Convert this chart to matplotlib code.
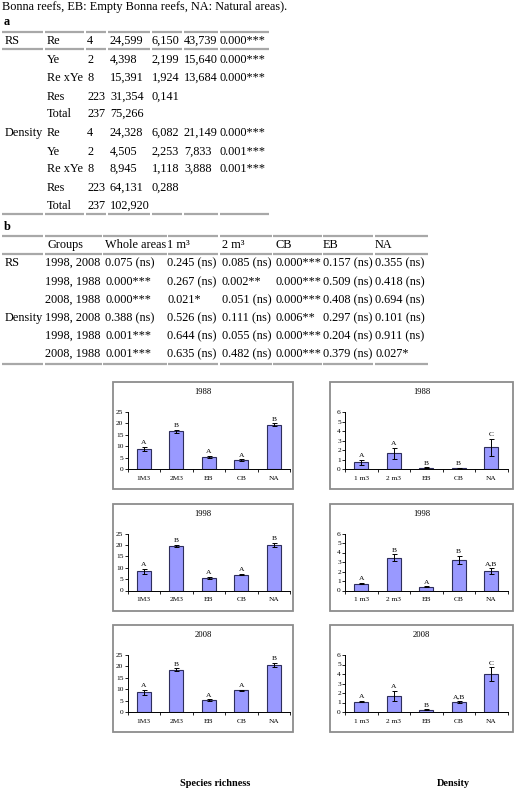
import matplotlib
matplotlib.use("Agg")
import matplotlib.pyplot as plt
from matplotlib.patches import Rectangle
import numpy as np

plt.rcParams['font.family'] = ['Liberation Serif', 'DejaVu Serif']

# ---------------- table a data ----------------
a_effect = ['RS', '', '', '', '', 'Density', '', '', '', '']
a_source = ['Re', 'Ye', 'Re xYe', 'Res', 'Total'] * 2
a_df = ['4', '2', '8', '223', '237'] * 2
a_ss = ['24,599', '4,398', '15,391', '31,354', '75,266',
        '24,328', '4,505', '8,945', '64,131', '102,920']
a_ms = ['6,150', '2,199', '1,924', '0,141', '',
        '6,082', '2,253', '1,118', '0,288', '']
a_f = ['43,739', '15,640', '13,684', '', '',
       '21,149', '7,833', '3,888', '', '']
a_p = ['0.000***', '0.000***', '0.000***', '', '',
       '0.000***', '0.001***', '0.001***', '', '']

# ---------------- table b data ----------------
b_header = ['', 'Groups', 'Whole areas', '1 m³', '2 m³', 'CB', 'EB', 'NA']
b_var = ['RS', '', '', 'Density', '', '']
b_groups = ['1998, 2008', '1998, 1988', '2008, 1988'] * 2
b_whole = ['0.075 (ns)', '0.000***', '0.000***', '0.388 (ns)', '0.001***', '0.001***']
b_1m = ['0.245 (ns)', '0.267 (ns)', '0.021*', '0.526 (ns)', '0.644 (ns)', '0.635 (ns)']
b_2m = ['0.085 (ns)', '0.002**', '0.051 (ns)', '0.111 (ns)', '0.055 (ns)', '0.482 (ns)']
b_cb = ['0.000***', '0.000***', '0.000***', '0.006**', '0.000***', '0.000***']
b_eb = ['0.157 (ns)', '0.509 (ns)', '0.408 (ns)', '0.297 (ns)', '0.204 (ns)', '0.379 (ns)']
b_na = ['0.355 (ns)', '0.418 (ns)', '0.694 (ns)', '0.101 (ns)', '0.911 (ns)', '0.027*']

# ---------------- chart data ----------------
years = ['1988', '1998', '2008']
sr_cats = ['1M3', '2M3', 'EB', 'CB', 'NA']
den_cats = ['1 m3', '2 m3', 'EB', 'CB', 'NA']

sr_1988 = [8.8, 16.6, 5.3, 3.9, 19.4]
sr_1988_err = [1.0, 0.6, 0.4, 0.3, 0.6]
sr_1998 = [8.4, 19.5, 5.5, 7.0, 20.0]
sr_1998_err = [1.2, 0.5, 0.5, 0.3, 1.0]
sr_2008 = [8.6, 18.5, 5.3, 9.5, 20.8]
sr_2008_err = [1.0, 0.6, 0.3, 0.3, 0.9]
sr_letters_1988 = ['A', 'B', 'A', 'A', 'B']
sr_letters_1998 = ['A', 'B', 'A', 'A', 'B']
sr_letters_2008 = ['A', 'B', 'A', 'A', 'B']

den_1988 = [0.7, 1.65, 0.12, 0.1, 2.3]
den_1988_err = [0.25, 0.6, 0.05, 0.05, 0.9]
den_1998 = [0.72, 3.45, 0.38, 3.2, 2.05]
den_1998_err = [0.06, 0.35, 0.05, 0.45, 0.3]
den_2008 = [1.1, 1.7, 0.22, 1.08, 4.0]
den_2008_err = [0.06, 0.5, 0.05, 0.08, 0.7]
den_letters_1988 = ['A', 'A', 'B', 'B', 'C']
den_letters_1998 = ['A', 'B', 'A', 'B', 'A,B']
den_letters_2008 = ['A', 'A', 'B', 'A,B', 'C']

W, H = 517, 790
fig = plt.figure(figsize=(W / 100, H / 100), dpi=100)

ov = fig.add_axes([0, 0, 1, 1])
ov.set_xlim(0, W)
ov.set_ylim(H, 0)
ov.axis('off')

FS = 8.8
rule_c = '#a8a8a8'

def rules(y, segs):
    for x0, x1 in segs:
        ov.plot([x0, x1], [y, y], color=rule_c, lw=1.6, solid_capstyle='butt')

ov.text(2, 7, 'Bonna reefs, EB: Empty Bonna reefs, NA: Natural areas).',
        fontsize=FS, va='center', ha='left')
ov.text(4, 22, 'a', fontsize=FS, fontweight='bold', va='center')

segA = [(2, 43), (45, 84), (86, 106), (108, 150), (152, 182), (184, 218), (220, 269)]
rules(32, segA)
rules(48.5, segA)
rules(214, segA)
colsA = [5, 47, 87, 110, 152, 184, 220]
rowsA = [41, 60, 78, 97, 114, 133, 152, 169, 188, 206]
for i, y in enumerate(rowsA):
    vals = [a_effect[i], a_source[i], a_df[i], a_ss[i], a_ms[i], a_f[i], a_p[i]]
    for x, v in zip(colsA, vals):
        if v:
            ov.text(x, y, v, fontsize=FS, va='center', ha='left')

ov.text(4, 227, 'b', fontsize=FS, fontweight='bold', va='center')
segB = [(2, 43), (45, 102), (103, 167), (168, 218), (220, 272), (273, 322),
        (323, 373), (375, 428)]
rules(236, segB)
rules(253.5, segB)
rules(363.5, segB)
colsB = [5, 45, 105, 167, 222, 275, 323, 375]
for x, v in zip(colsB, b_header):
    if v:
        ov.text(x if v != 'Groups' else 47, 245, v, fontsize=FS, va='center', ha='left')
rowsB = [263, 282, 300, 318, 336, 354]
for i, y in enumerate(rowsB):
    vals = [b_var[i], b_groups[i], b_whole[i], b_1m[i], b_2m[i], b_cb[i], b_eb[i], b_na[i]]
    for x, v in zip(colsB, vals):
        if v:
            ov.text(x, y, v, fontsize=FS, va='center', ha='left')

# ---------------- charts ----------------
frame_tops = [382, 503.5, 625]
left_frame = (113, 293)
right_frame = (330, 513)
left_axis = (127.5, 290)
right_axis = (345, 507.5)
bar_color = '#9999ff'
edge_color = '#2e2e5c'

sr_vals = [sr_1988, sr_1998, sr_2008]
sr_errs = [sr_1988_err, sr_1998_err, sr_2008_err]
sr_lets = [sr_letters_1988, sr_letters_1998, sr_letters_2008]
den_vals = [den_1988, den_1998, den_2008]
den_errs = [den_1988_err, den_1998_err, den_2008_err]
den_lets = [den_letters_1988, den_letters_1998, den_letters_2008]


def draw_chart(T, frame, axx, cats, vals, errs, lets, ymax, ystep, title):
    ov.add_patch(Rectangle((frame[0], T), frame[1] - frame[0], 107,
                           fill=False, ec='#8c8c8c', lw=1.3))
    ov.text((frame[0] + frame[1]) / 2, T + 10, title, fontsize=6.2,
            ha='center', va='center')
    ax = fig.add_axes([axx[0] / W, 1 - (T + 87) / H, (axx[1] - axx[0]) / W, 57 / H])
    ax.set_facecolor('none')
    x = np.arange(len(cats))
    ax.bar(x, vals, width=0.42, color=bar_color, edgecolor=edge_color, lw=0.8,
           yerr=errs, error_kw=dict(ecolor='black', elinewidth=0.7, capsize=1.8,
                                    capthick=0.7))
    for xi, v, e, l in zip(x, vals, errs, lets):
        ax.annotate(l, (xi, v + e), xytext=(0, 1.2), textcoords='offset points',
                    ha='center', va='bottom', fontsize=5.4)
    ax.set_xlim(-0.5, len(cats) - 0.5)
    ax.set_ylim(0, ymax)
    ax.set_yticks(np.arange(0, ymax + 0.001, ystep))
    ax.set_xticks(x)
    ax.set_xticklabels(cats)
    ax.set_xticks(np.arange(-0.5, len(cats), 1.0), minor=True)
    ax.tick_params(axis='x', which='major', length=0, pad=5, labelsize=5.3)
    ax.tick_params(axis='x', which='minor', length=2.2, width=0.6, direction='out')
    ax.tick_params(axis='y', length=2, width=0.6, pad=1, labelsize=5.3)
    for s in ['top', 'right']:
        ax.spines[s].set_visible(False)
    for s in ['left', 'bottom']:
        ax.spines[s].set_linewidth(0.7)
    return ax


for i, T in enumerate(frame_tops):
    draw_chart(T, left_frame, left_axis, sr_cats, sr_vals[i], sr_errs[i],
               sr_lets[i], 25, 5, years[i])
    draw_chart(T, right_frame, right_axis, den_cats, den_vals[i], den_errs[i],
               den_lets[i], 6, 1, years[i])

ov.text(215, 783, 'Species richness', fontsize=7.4, fontweight='bold',
        ha='center', va='center')
ov.text(453, 783, 'Density', fontsize=7.4, fontweight='bold',
        ha='center', va='center')

fig.savefig('out.png', dpi=100)
